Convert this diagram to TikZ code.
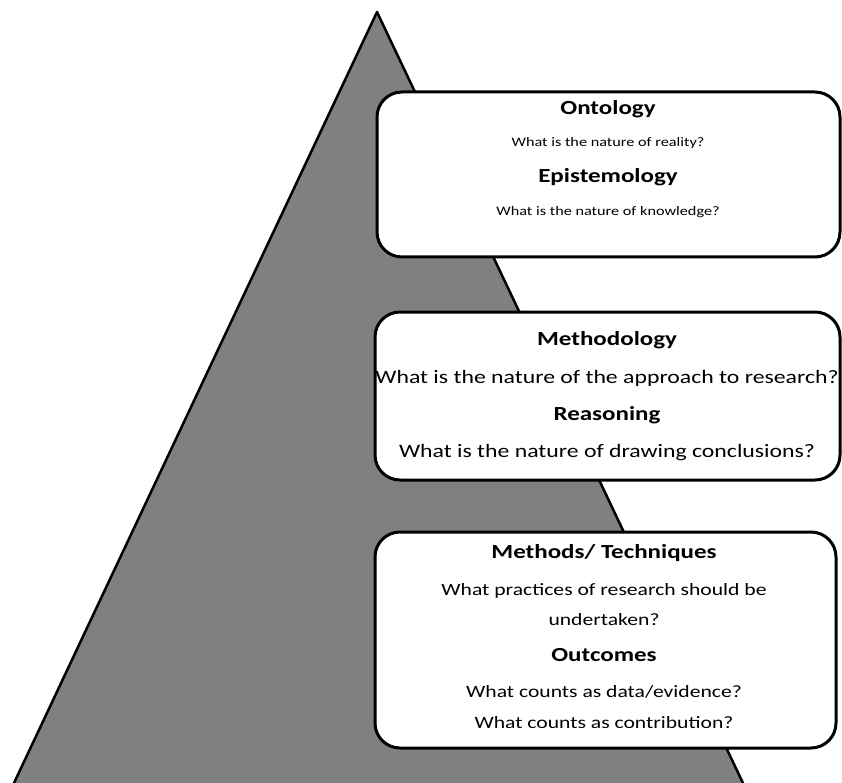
\documentclass[tikz,border=0pt]{standalone}
\usepackage{fontspec}
\setmainfont{Carlito}[FakeStretch=1.25]
\usepackage{tikz}
\usetikzlibrary{positioning}
\colorlet{pyramidGray}{black!50}
\tikzset{
  pyramid/.style={
    fill=pyramidGray,
    draw=black,
    line width=2.5pt,
    line join=round
  },
  levelbox/.style={
    rounded corners=25pt,
    fill=white,
    draw=black,
    line width=3pt,
    inner sep=0pt,
    outer sep=0pt
  },
  heading/.style={
    font=\fontsize{20}{24}\selectfont\bfseries,
    anchor=center
  },
  question/.style={
    font=\fontsize{#1}{#1}\selectfont,
    anchor=center
  },
  question/.default=16
}
\begin{document}
\begin{tikzpicture}[x=1pt,y=-1pt]
\clip (0,0) rectangle (842,783);

% pyramid in the background
\draw[pyramid] (377,12) -- (751,800) -- (6,800) -- cycle;

% three levels
\node[levelbox, minimum width=463pt, minimum height=165pt] (philosophy) at (608.5,174.5) {};
\node[levelbox, minimum width=465pt, minimum height=168pt] (approach) at (607.5,396) {};
\node[levelbox, minimum width=461pt, minimum height=216pt] (practice) at (605.5,640) {};

% top level
\node[heading] (ontology) at (608,109) {Ontology};
\node[question=13] (reality) at (608,143) {What is the nature of reality?};
\node[heading] (epistemology) at (608,177) {Epistemology};
\node[question=13] (knowledge) at (608,212) {What is the nature of knowledge?};

% middle level
\node[heading] (methodology) at (607,340) {Methodology};
\node[question=19] (research) at (607,378) {What is the nature of the approach to research?};
\node[heading] (reasoning) at (607,415) {Reasoning};
\node[question=19] (conclusions) at (607,453) {What is the nature of drawing conclusions?};

% bottom level
\node[heading] (methods) at (604,553) {Methods/ Techniques};
\node[question=17.3] (practices) at (604,591) {What practices of research should be};
\node[question=17.3] (undertaken) at (604,620) {undertaken?};
\node[heading] (outcomes) at (604,655) {Outcomes};
\node[question=17.3] (evidence) at (604,692) {What counts as data/evidence?};
\node[question=17.3] (contribution) at (604,723) {What counts as contribution?};

\end{tikzpicture}
\end{document}
